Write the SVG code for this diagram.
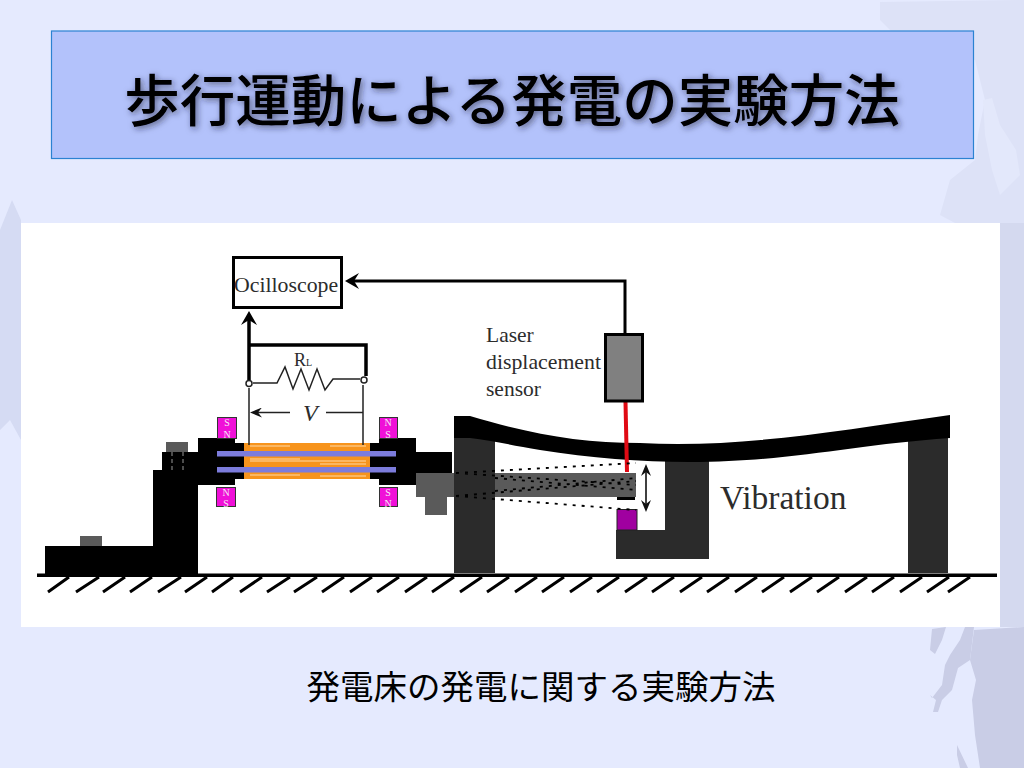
<svg xmlns="http://www.w3.org/2000/svg" width="1024" height="768" viewBox="0 0 1024 768">
<style>
.cjk{font-family:"Noto Sans CJK JP","Noto Sans CJK SC",sans-serif;fill:#000}
.ser{font-family:"Liberation Serif",serif;fill:#2c2c2c}
.mag{fill:#f010d8;stroke:#333;stroke-width:1}
.magt{font-family:"Liberation Serif",serif;font-size:10px;fill:#f4e8f4;text-anchor:middle}
.wire{fill:none;stroke-linecap:butt}
.dot{fill:none;stroke:#000;stroke-width:1.800;stroke-dasharray:3 6}
.col{fill:#2b2b2b}
.blk{fill:#000}
.gry{fill:#5a5a5a}
.rod{fill:#7c7cdc}
.str{stroke:#ffd9a8;stroke-width:1.200;fill:none}
</style>
<defs>
<filter id="sh" x="-5%" y="-30%" width="110%" height="160%"><feDropShadow dx="2" dy="2" stdDeviation="3" flood-color="#223" flood-opacity=".6"/></filter>
<marker id="ah" viewBox="0 0 14 16" refX="5" refY="8" markerWidth="14" markerHeight="16" markerUnits="userSpaceOnUse" orient="auto-start-reverse"><path d="M14 8L0 0L5 8L0 16Z" fill="#000"/></marker>
<marker id="as" viewBox="0 0 12 10" refX="4" refY="5" markerWidth="12" markerHeight="10" markerUnits="userSpaceOnUse" orient="auto-start-reverse"><path d="M12 5L0 0L4 5L0 10Z" fill="#111"/></marker>
</defs>

<g id="background">
<rect width="1024" height="768" fill="#e5eafe"/>
<path d="M880 2L1024 0V223H955L940 215L950 180L975 160L978 135L985 100L975 60L900 40L880 20Z" fill="#dde2f7"/>
<path d="M1000 223H1024V627H1000Z" fill="#d4d9ef"/>
<path d="M974 630L1024 627V768H980L975 735L972 700L976 680L970 660Z" fill="#c9cde6"/>
<path d="M932 629L946 627L942 640L935 654L930 650Z M965 627L974 627L970 660L958 668L952 690L942 700L938 712L933 712L936 700L930 695L932 698L942 685L945 665L950 655L960 640Z M957 745L968 768L960 768L957 755Z" fill="#c9cde6"/>
<path d="M983 100L992 98L1000 125L1016 150L1020 175L1000 195L992 170L985 135Z" fill="#e3e8fb"/>
<path d="M0 230L12 200L21 220V440L10 420L0 430Z" fill="#d5dbf3"/>
</g>

<g id="title">
<rect x="51.500" y="31" width="922" height="127.500" fill="#b3c2fb" stroke="#2b82d2" stroke-width="1.200"/>
<text class="cjk" x="512" y="121" font-size="55.500" font-weight="500" text-anchor="middle" filter="url(#sh)">歩行運動による発電の実験方法</text>
</g>

<rect id="panel" x="21" y="223" width="979" height="404" fill="#fff"/>

<g id="ground">
<rect x="37" y="573.500" width="960" height="3.500" fill="#000"/>
<path d="M69 577L48 592M99 577L76 592M125 577L103 592M152 577L130 592M181 577L158 592M207 577L185 592M233 577L212 592M262 577L240 592M290 577L267 592M317 577L294 592M344 577L322 592M372 577L350 592M399 577L377 592M427 577L405 592M454 577L432 592M482 577L460 592M509 577L487 592M537 577L515 592M564 577L542 592M592 577L570 592M619 577L597 592M647 577L625 592M674 577L652 592M702 577L680 592M729 577L707 592M757 577L735 592M784 577L762 592M812 577L790 592M839 577L817 592M867 577L845 592M894 577L872 592M922 577L900 592M949 577L927 592M970 577L948 592" stroke="#000" stroke-width="3" fill="none"/>
</g>

<g id="left-stand">
<rect class="blk" x="45" y="546" width="153" height="28"/>
<rect class="gry" x="80" y="536" width="22" height="10"/>
<path class="blk" d="M153 546V470H162V452H198V438H235V443H244V479H235V485H198V546Z"/>
<rect class="gry" x="166" y="442" width="22" height="10"/>
<path d="M172 452V470M183 452V470" stroke="#666" stroke-width="1.500" stroke-dasharray="4 3"/>
</g>

<g id="right-clamp">
<path class="blk" d="M370 443H379V438H416V452H452V473H416V485H379V479H370Z"/>
</g>

<g id="piezo">
<rect x="244" y="443" width="126" height="36" fill="#f7941d"/>
<path class="str" d="M250 446H290M330 446H366M250 461H366M250 459H300M320 464H366M250 475H300M320 476H366"/>
<rect x="217" y="451" width="179" height="5.500" class="rod"/>
<rect x="217" y="467" width="179" height="5.500" class="rod"/>
</g>

<g id="magnets">
<g id="magnet-tl"><rect class="mag" x="217.500" y="417.500" width="19" height="21"/><text class="magt" x="227" y="426">S</text><text class="magt" x="227" y="438">N</text></g>
<g id="magnet-tr"><rect class="mag" x="379.500" y="417.500" width="18" height="21"/><text class="magt" x="388" y="426">N</text><text class="magt" x="388" y="438">S</text></g>
<g id="magnet-bl"><rect class="mag" x="216.500" y="487.500" width="19" height="19"/><text class="magt" x="226" y="496">N</text><text class="magt" x="226" y="507">S</text></g>
<g id="magnet-br"><rect class="mag" x="379.500" y="487.500" width="18" height="19"/><text class="magt" x="388" y="496">S</text><text class="magt" x="388" y="507">N</text></g>
</g>

<g id="beam-assembly">
<path class="gry" d="M416 473H636V497H416Z"/>
<rect class="gry" x="425" y="497" width="22" height="18"/>
<rect class="col" x="454" y="436" width="41" height="137"/>
<rect class="col" x="908" y="436" width="40" height="137"/>
<path class="col" d="M665 458H709V559H616V530H665Z"/>
<rect x="617" y="497" width="18" height="3" fill="#000"/>
<rect x="617" y="509.500" width="20" height="20.500" fill="#a000a0" stroke="#222" stroke-width="1"/>
<path class="blk" d="M454 416H470C530 434 580 443 640 443C740 448 830 432 950 415V438C850 445 790 462 690 462C640 462 590 458 540 450C510 445 490 440 470 438H454Z"/>
</g>

<g id="connectors">
<path class="wire" stroke="#000" stroke-width="3" marker-end="url(#ah)" d="M625 333V281H354"/>
<path class="wire" stroke="#000" stroke-width="3.500" marker-end="url(#ah)" d="M249 380V320"/>
<path class="wire" stroke="#000" stroke-width="3.500" d="M249 345H366V376"/>
<path class="wire" stroke="#222" stroke-width="1.500" d="M249 388V445M363 385V445"/>
<path class="wire" stroke="#222" stroke-width="1.500" d="M253 383H277L285 367L293 389L301 369L309 390L317 369L325 390L333 379H360"/>
<path class="wire" stroke="#222" stroke-width="1.500" marker-end="url(#as)" d="M290 412.500H258"/>
<path class="wire" stroke="#222" stroke-width="1.500" d="M326 412.500H363"/>
<circle cx="249" cy="383.500" r="3" fill="#fff" stroke="#222" stroke-width="1.500"/>
<circle cx="364" cy="380" r="3" fill="#fff" stroke="#222" stroke-width="1.500"/>
<path class="wire" stroke="#e00a14" stroke-width="4" d="M625.500 402L627 472"/>
<path class="dot" d="M456 473L636 463M456 473L636 485M456 496L636 481M456 496L636 510M495 478L636 490M495 491L636 478"/>
<path class="wire" stroke="#000" stroke-width="1.500" marker-start="url(#as)" marker-end="url(#as)" d="M646 472V504"/>
</g>

<g id="sensor"><rect x="605.500" y="334.500" width="37" height="66.500" fill="#808080" stroke="#000" stroke-width="3"/></g>
<g id="oscilloscope"><rect x="233.500" y="257.500" width="108" height="50" fill="#fff" stroke="#000" stroke-width="3"/><text class="ser" x="234" y="292" font-size="21.800">Ocilloscope</text></g>

<g id="labels">
<text class="ser" x="294" y="366" font-size="18">R<tspan font-size="10">L</tspan></text>
<text class="ser" x="303" y="421" font-size="24" font-style="italic">V</text>
<text class="ser" x="486" y="342" font-size="21.500">Laser</text>
<text class="ser" x="486" y="369" font-size="21.800">displacement</text>
<text class="ser" x="486" y="396" font-size="21.500">sensor</text>
<text class="ser" x="720" y="509" font-size="33.500">Vibration</text>
</g>

<text id="caption" class="cjk" x="541" y="699" font-size="33.500" text-anchor="middle">発電床の発電に関する実験方法</text>
</svg>
